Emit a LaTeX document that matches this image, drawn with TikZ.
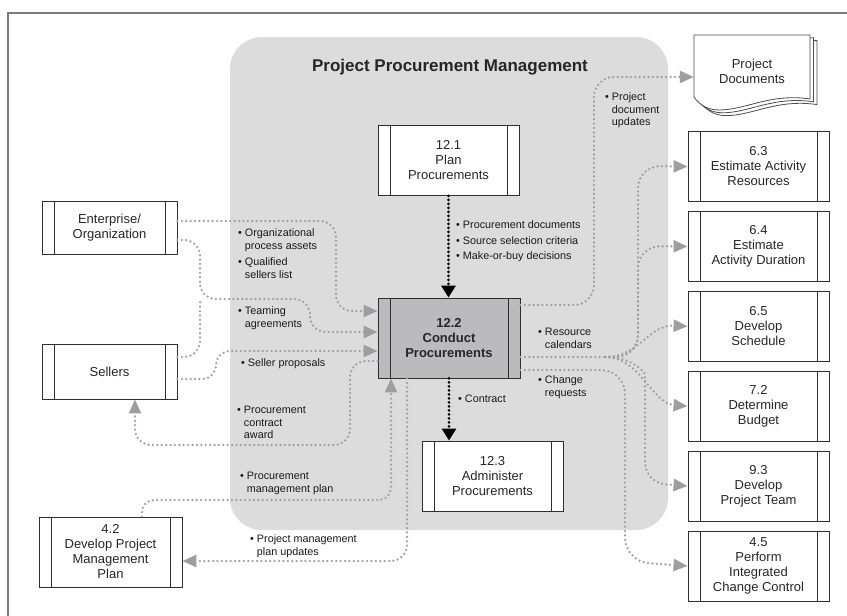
\documentclass[tikz,border=0pt]{standalone}
\usepackage{fontspec}
\setmainfont{Liberation Sans}
\usepackage{xcolor}
\usepackage{tikz}
\usetikzlibrary{arrows.meta,positioning,calc}
\definecolor{areagray}{HTML}{DCDCDD}
\definecolor{condgray}{HTML}{BBBBBD}
\definecolor{flowgray}{HTML}{9E9EA0}
\definecolor{framegray}{HTML}{7A7A7A}
\definecolor{edgegray}{HTML}{2E2E2E}
\newcommand\procfont{\fontsize{13}{15}\selectfont}
\newcommand\lblfont{\fontsize{10.8}{12.5}\selectfont}
\newcommand\bitem[1]{\textbullet\hspace{3pt}\begin{tabular}[t]{@{}l@{}}#1\end{tabular}}
\tikzset{
  proc/.style={draw=edgegray, line width=0.9pt, fill=white, minimum width=141pt, minimum height=70pt,
    inner sep=2pt, align=center, font=\procfont, text=black!85,
    path picture={\draw[edgegray, line width=0.9pt]
      ([xshift=12pt]path picture bounding box.north west) -- ([xshift=12pt]path picture bounding box.south west)
      ([xshift=-12pt]path picture bounding box.north east) -- ([xshift=-12pt]path picture bounding box.south east);}},
  docline/.style={draw=black!70, line width=0.8pt, fill=white},
  lbl/.style={font=\lblfont, align=left, inner sep=0pt, anchor=north west, text=black!90},
  flowline/.style={draw=flowgray, line width=2.5pt, line cap=round, dash pattern=on 0pt off 4.4pt, rounded corners=16pt},
  flow/.style={flowline, -{Triangle[length=14pt,width=12pt]}},
  mainflow/.style={draw=black, line width=3pt, line cap=round, dash pattern=on 0pt off 4pt, -{Triangle[length=12pt,width=14pt]}}
}
\begin{document}
\begin{tikzpicture}[x=1pt, y=-1pt, node distance=9pt]
  \useasboundingbox[fill=white] (0,0) rectangle (847,616);
  \draw[framegray, line width=1.3pt] (8,616) -- (8,13) -- (847,13);
  \fill[areagray, rounded corners=32pt] (230,37) rectangle (668,530);
  \node[font=\fontsize{17}{20}\selectfont\bfseries, text=black!85] (title) at (450,67) {Project Procurement Management};

  \node[proc, minimum width=135pt, minimum height=53pt] (ent) at (109.5,227.5) {Enterprise/\\Organization};
  \node[proc, minimum width=135pt, minimum height=55pt] (sel) at (109.5,371.5) {Sellers};
  \node[proc, minimum width=143pt] (dpmp) at (110.5,552) {4.2\\Develop Project\\Management\\Plan};

  \node[proc] (plan) at (448.5,160.5) {12.1\\Plan\\Procurements};
  \node[proc, fill=condgray, minimum width=142pt, minimum height=80pt, font=\procfont\bfseries] (cp) at (449,338) {12.2\\Conduct\\Procurements};
  \node[proc] (admin) at (492.5,476) {12.3\\Administer\\Procurements};

  \foreach \s in {7,3.5,0}
    \draw[docline, shift={({\s},{0.8*\s})}] (694,35) -- (810,35) -- (810,99)
      .. controls (770,93) and (746,110) .. (719,110) .. controls (706,110) and (698,103) .. (694,97) -- cycle;
  \node[font=\procfont, align=center, text=black!85, minimum width=116pt, minimum height=62pt] (docs) at (752,71) {Project\\Documents};

  \node[proc] (est63) at (758.5,166.5) {6.3\\Estimate Activity\\Resources};
  \node[proc, below=of est63] (est64) {6.4\\Estimate\\Activity Duration};
  \node[proc, below=of est64] (sched) {6.5\\Develop\\Schedule};
  \node[proc, below=of sched] (budget) {7.2\\Determine\\Budget};
  \node[proc, below=of budget] (team) {9.3\\Develop\\Project Team};
  \node[proc, below=of team] (icc) {4.5\\Perform\\Integrated\\Change Control};

  \node[lbl] (opa) at (238,228) {\bitem{Organizational\\process assets}\\[3pt]\bitem{Qualified\\sellers list}};
  \node[lbl] (teaming) at (238,306) {\bitem{Teaming\\agreements}};
  \node[lbl] (sprop) at (241,358) {\bitem{Seller proposals}};
  \node[lbl] (award) at (237,405) {\bitem{Procurement\\contract\\award}};
  \node[lbl] (pmplan) at (240,471) {\bitem{Procurement\\management plan}};
  \node[lbl] (pmupd) at (250,534) {\bitem{Project management\\plan updates}};
  \node[lbl] (pdupd) at (605,92) {\bitem{Project\\document\\updates}};
  \node[lbl] (pdocs) at (456,220) {\bitem{Procurement documents}\\[3pt]\bitem{Source selection criteria}\\[3pt]\bitem{Make-or-buy decisions}};
  \node[lbl] (rcal) at (538,327) {\bitem{Resource\\calendars}};
  \node[lbl] (creq) at (538,375) {\bitem{Change\\requests}};
  \node[lbl] (contr) at (458,394) {\bitem{Contract}};

  \coordinate (tjoin) at (200,299);
  \coordinate (rcj) at (605,357);

  \draw[flow] (ent.east |- 0,221) -- (336,221) -- (336,311) -- (cp.west |- 0,311);
  \draw[flow] (ent.east |- 0,240) -- (tjoin |- 0,240) -- (tjoin) -- (310,299) -- (310,332) -- (cp.west |- 0,332);
  \draw[flowline] (sel.east |- 0,357) -- (tjoin |- 0,357) -- (tjoin);
  \draw[flow, rounded corners=14pt] (sel.east |- 0,379) -- (216,379) -- (216,351) -- (cp.west |- 0,351);
  \draw[flow] (cp.west |- 0,361) -- (350,361) -- (350,445) -- (135,445) -- (sel.south -| 135,0);
  \draw[flow, rounded corners=12pt] (dpmp.north -| 142,0) -- (142,500) -- (391,500) -- (cp.south -| 391,0);
  \draw[flow] (cp.south -| 407,0) -- (407,561) -- (dpmp.east |- 0,561);

  \draw[flow, rounded corners=20pt] (cp.east |- 0,305) -- (594,305) -- (594,77) -- (docs.west |- 0,77);
  \draw[flowline] (cp.east |- 0,357) -- (rcj);
  \draw[flow, rounded corners=22pt] (rcj) -- (638,357) -- (638,166) -- (est63.west);
  \draw[flow, rounded corners=22pt] (rcj) -- (638,357) -- (638,246) -- (est64.west);
  \draw[flow] (rcj) .. controls (640,357) and (648,324.5) .. (sched.west);
  \draw[flow] (rcj) .. controls (640,357) and (652,403.5) .. (budget.west);
  \draw[flow, rounded corners=20pt] (rcj) .. controls (632,357) and (645,372) .. (645,395) -- (645,482.5) -- (team.west);
  \draw[flow, rounded corners=24pt] (cp.east |- 0,370) -- (625,370) -- (625,561.5) -- (icc.west);

  \draw[mainflow] (plan.south) -- (plan.south |- cp.north);
  \draw[mainflow] (cp.south) -- (cp.south |- admin.north);
\end{tikzpicture}
\end{document}
